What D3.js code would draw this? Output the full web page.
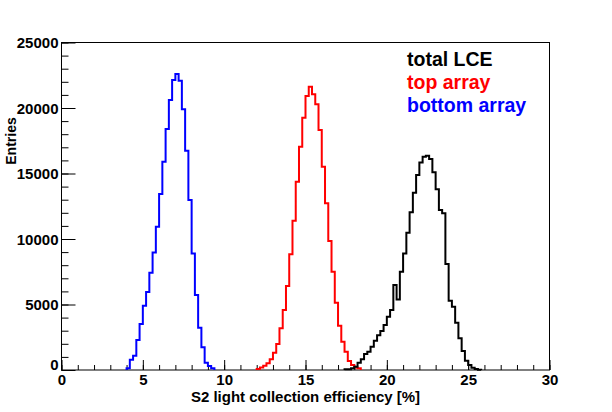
<!DOCTYPE html>
<html>
<head>
<meta charset="utf-8">
<script src="https://cdn.jsdelivr.net/npm/d3@7"></script>
<style>
  body { margin: 0; background: #fff; }
  text { font-family: "Liberation Sans", Arial, Helvetica, sans-serif; font-weight: bold; }
</style>
</head>
<body>
<div id="chart"></div>
<script>
// bin width in % and first bin edge of each histogram
var binWidth = 0.2
var blueStart = 4.0
var redStart = 12.0
var blackStart = 17.4

// entries per bin
var bottomArray = [130, 790, 1090, 2290, 3510, 4910, 5950, 7430, 8960, 10940, 13440, 15900, 18400, 20610,
    22140, 22600, 22080, 19900, 16740, 12980, 8900, 5730, 3230, 1730, 560, 305, 130]
var topArray = [70, 200, 330, 510, 820, 1320, 1980, 3180, 4580, 6410, 8830, 11400, 14370, 17050, 19260,
    20920, 21630, 21050, 20280, 18320, 15520, 12720, 9850, 7500, 5140, 3380, 2160, 1400, 690, 380, 200, 130]
var totalLCE = [50, 60, 130, 250, 560, 815, 1220, 1400, 1780, 2240, 2650, 2980, 3440, 4070, 4580, 6490,
    5390, 7500, 8900, 10480, 12040, 13540, 14880, 15840, 16280, 16360, 16100, 15090, 13790, 12210, 11960,
    8090, 5290, 4830, 3610, 2420, 1450, 710, 380, 180, 80, 25]

var xMajor = [0, 5, 10, 15, 20, 25, 30]
var yMajor = [0, 5000, 10000, 15000, 20000, 25000]
var legendNames = ["total LCE", "top array", "bottom array"]

var width = 612,
    height = 412

var x = d3.scaleLinear().domain([0, 30]).range([61.5, 549.5])
var y = d3.scaleLinear().domain([0, 25000]).range([370, 42.5])

var svg = d3.select("#chart").append("svg")
    .attr("width", width)
    .attr("height", height)

svg.append("rect")
    .attr("width", width)
    .attr("height", height)
    .attr("fill", "#fff")

// minor ticks
svg.append("g")
    .attr("transform", "translate(0,370)")
    .call(d3.axisBottom(x).tickValues(d3.range(0, 31, 1)).tickSize(-5).tickFormat(""))
svg.append("g")
    .attr("transform", "translate(61.5,0)")
    .call(d3.axisLeft(y).tickValues(d3.range(0, 25001, 1000)).tickSize(-7).tickFormat(""))

// major ticks with labels
var gx = svg.append("g")
    .attr("transform", "translate(0,370)")
    .call(d3.axisBottom(x).tickValues(xMajor).tickSize(-10).tickPadding(4).tickFormat(d3.format("d")))
var gy = svg.append("g")
    .attr("transform", "translate(61.5,0)")
    .call(d3.axisLeft(y).tickValues(yMajor).tickSize(-14).tickPadding(3).tickFormat(d3.format("d")))

svg.selectAll(".domain").remove()
svg.selectAll(".tick line").attr("stroke", "#000").attr("stroke-width", 1)
gx.selectAll("text").attr("font-size", 15).attr("fill", "#000")
gy.selectAll("text").attr("font-size", 15).attr("fill", "#000")
    .attr("dy", function (d) { return d === 0 ? "-0.05em" : "0.34em" })

// frame
svg.append("rect")
    .attr("x", x(0))
    .attr("y", y(25000))
    .attr("width", x(30) - x(0))
    .attr("height", y(0) - y(25000))
    .attr("fill", "none")
    .attr("stroke", "#000")
    .attr("stroke-width", 1)

function pintaHisto(valores, inicio, color) {
    var puntos = [{ e: inicio, v: 0 }]
    valores.forEach(function (v, i) {
        puntos.push({ e: inicio + i * binWidth, v: v })
    })
    puntos.push({ e: inicio + valores.length * binWidth, v: 0 })

    var linea = d3.line()
        .x(function (d) { return x(d.e) })
        .y(function (d) { return y(d.v) })
        .curve(d3.curveStepAfter)

    svg.append("path")
        .datum(puntos)
        .attr("fill", "none")
        .attr("stroke", color)
        .attr("stroke-width", 2)
        .attr("d", linea)
}

pintaHisto(bottomArray, blueStart, "#0000ff")
pintaHisto(topArray, redStart, "#ff0000")
pintaHisto(totalLCE, blackStart, "#000000")

// axis titles
svg.append("text")
    .attr("x", (x(0) + x(30)) / 2)
    .attr("y", 402)
    .attr("text-anchor", "middle")
    .attr("font-size", 15)
    .text("S2 light collection efficiency [%]")

svg.append("text")
    .attr("transform", "translate(16,141) rotate(-90)")
    .attr("text-anchor", "middle")
    .attr("font-size", 14)
    .text("Entries")

// legend
var colores = ["#000000", "#ff0000", "#0000ff"]
svg.selectAll(".leyenda")
    .data(legendNames)
    .enter().append("text")
    .attr("class", "leyenda")
    .attr("x", 407)
    .attr("y", function (d, i) { return 66 + i * 23 })
    .attr("font-size", 19.5)
    .attr("fill", function (d, i) { return colores[i] })
    .text(function (d) { return d })
</script>
</body>
</html>
